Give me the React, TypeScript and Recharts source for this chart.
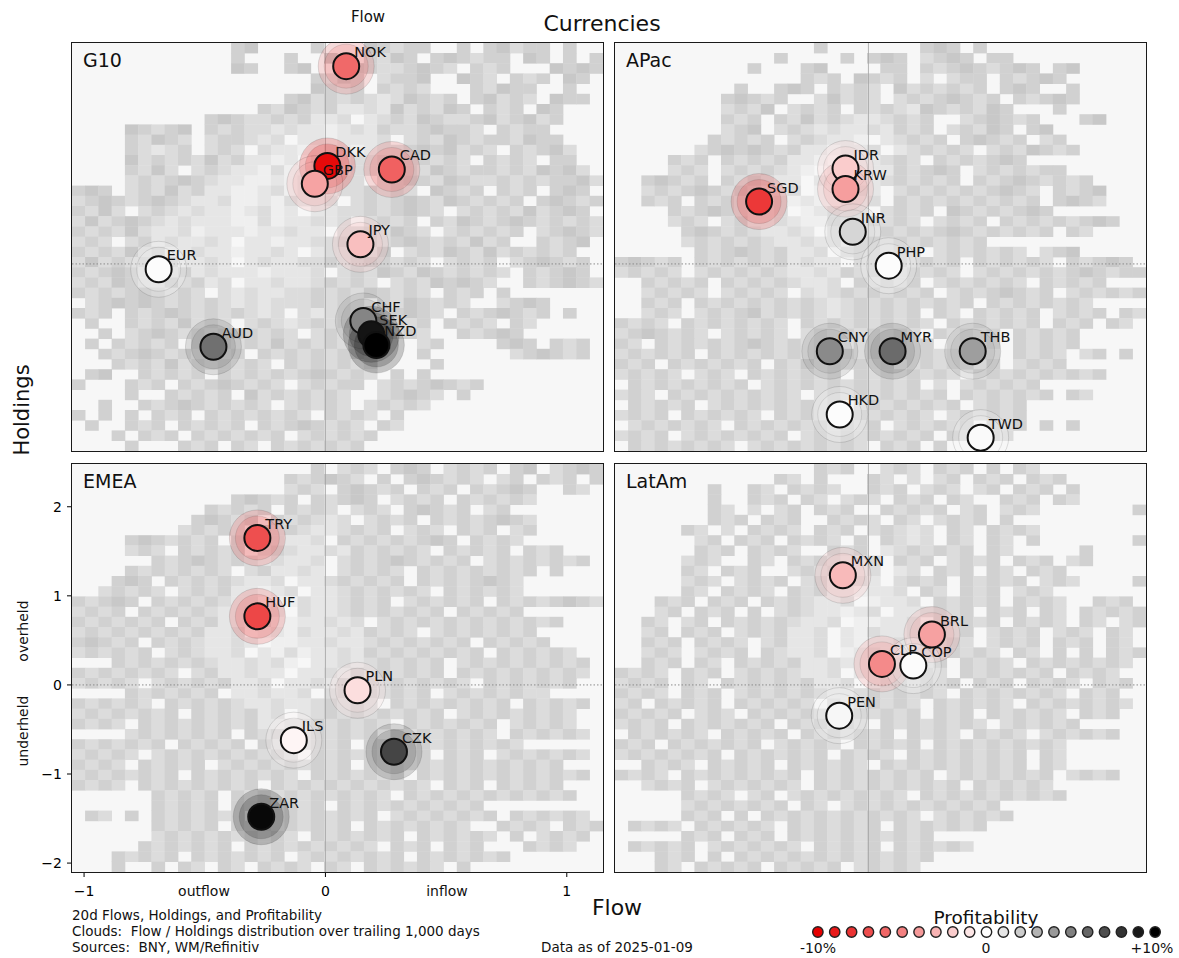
import React from "react";
import { ScatterChart, Scatter, XAxis, YAxis } from "recharts";

const FONT = "DejaVu Sans, Verdana, sans-serif";
const XMIN = -1.05;
const XMAX = 1.15;
const YMIN = -2.1;
const YMAX = 2.48;
const NBINS = 40;

const flowTicks = [-1, 0, 1];
const holdTicks = [-2, -1, 0, 1, 2];
const profitSteps = [-10, -9, -8, -7, -6, -5, -4, -3, -2, -1, 0, 1, 2, 3, 4, 5, 6, 7, 8, 9, 10];

// G10
const g10Names = ["NOK", "DKK", "GBP", "CAD", "JPY", "EUR", "CHF", "SEK", "NZD", "AUD"];
const g10Flow = [0.086, 0.008, -0.044, 0.275, 0.145, -0.691, 0.157, 0.19, 0.211, -0.464];
const g10Hold = [2.22, 1.1, 0.9, 1.06, 0.22, -0.06, -0.64, -0.79, -0.91, -0.93];
const g10Profit = [-5.9, -9.6, -3.6, -6.2, -2.5, 0.1, 4.8, 9.2, 10, 5.6];

// APac
const apacNames = ["SGD", "IDR", "KRW", "INR", "PHP", "CNY", "MYR", "THB", "HKD", "TWD"];
const apacFlow = [-0.453, -0.095, -0.095, -0.065, 0.084, -0.16, 0.1, 0.432, -0.119, 0.465];
const apacHold = [0.7, 1.07, 0.84, 0.36, -0.02, -0.98, -0.98, -0.98, -1.69, -1.95];
const apacProfit = [-7.8, -2.0, -3.8, 1.6, 0.1, 4.6, 5.8, 3.8, 0.1, 0.2];

// EMEA
const emeaNames = ["TRY", "HUF", "PLN", "ILS", "CZK", "ZAR"];
const emeaFlow = [-0.282, -0.282, 0.133, -0.131, 0.284, -0.266];
const emeaHold = [1.65, 0.77, -0.06, -0.62, -0.75, -1.48];
const emeaProfit = [-6.9, -7.2, -1.3, -0.4, 7.3, 9.7];

// LatAm
const latamNames = ["MXN", "BRL", "CLP", "COP", "PEN"];
const latamFlow = [-0.106, 0.263, 0.056, 0.186, -0.121];
const latamHold = [1.23, 0.565, 0.236, 0.217, -0.345];
const latamProfit = [-2.7, -3.7, -4.6, 0.1, 0.3];

// clouds: 40x40 histogram bins, top row = highest holdings
const g10Cloud = [
  "............cd....c...dcbcc..c.cdbcc.c..",
  "............c...c..d..cbdc.cdcbcc.dc.c.c",
  "............dc..cd..cdcbbcdcb.cbc...dcdc",
  "..................cbdc.bccd..dcb.cbc.dc.",
  "..................dcbc.cbcb...cbdcc..c..",
  "................cdbcbcbabdcbc.cdbcb.dcc.",
  "..............cbdcbcaabadbcbdc.cbc.dc...",
  "..........cdcbbcbcaab.abcbdcbbcdbcdbc...",
  "....dcbcd.cbcbbabaawabacbbcdccb.cbcc....",
  "....cbdcb.bccbab.aawaaab.bcbdcbccbdcc...",
  "....cbabc.bcb.baawwaawabbcdcdbcb.cbcdb..",
  "....dbcbcbdbcaawa.aaabbcbccbcb.cbcb.cc..",
  "....cbdb.bcbaawbwwaaabb.bcbdcbccbcbdcdb.",
  "....bcbcdcbaawwawaaabb.bcdcbdcbbcbcbccdb",
  "cdc.bcbdbcaawwabwaaabbcbcb.dcbc.cbc.cdc.",
  "bcdcbcdcbaabwwawbaab.bcbcdcbdcbcbc.cdcbc",
  "cbdb.bcbabaawabwa.aabbcbcdcb.bcbcbdbcdc.",
  "bdbcdcbabaaawwbwaabab.bcbc.cbdcbcdcbcbcb",
  "cbcbdbaabwaaawaabaa.bbcbdcb.bcbcbc.bcdcb",
  "bcb.bcabaaba.aawaabbcbcbcdcbcbdbc..cbcd.",
  "cbcbdbcaabaawaaba.abbcbd.bcbdcbdbcbcbc.",
  "bdbcbcbcaaba.abaabbcbcdcbcb.bcbc.bcdcbc",
  "cbcdcbcbcabaaawaaab.bcbdcbdcbcbcb.cbcdc",
  "bcbdcbbdbcab.aabaabcbcb.bcbdcdcb..cbcdcb",
  "cbcbcdcbcb.babaabbcbcbdcbcb.cbc.c.......",
  ".bcdcdcbcbcbababbbcbcb.cbdcbcb..bcdc....",
  "cbc.cbcdcbcbcbab.babcbcbcdcb.cbcdcbc.c..",
  ".c..cbcbdbcb.bcbabcbcdcbcbc.cbcb.cb.....",
  "..c.bcdcbcbcdcbcb.bcbcbcbcb..cbcdc......",
  ".c.cbcbc.cbcbcbdbcbcbcbc..bc....cdc.cbc.",
  "..cbcdcbcbcbc.cbcbcbcdc...c......bcdcbc.",
  "...cbcbdbcbcbcb.cbcbcbc....c............",
  ".cd..cbcbc.cbcbcbcdcbcb.c.c.............",
  "c...cbc.cbcdcbcb.bcbcc.bcbcdcbc.........",
  "....c..cbcbc.dbcbcbcb..bcdcb.c..........",
  "..c..cbcdcbcbcb.bcbcb.bcbcb.............",
  "c.c.c.cbc.cbcbcbcb.cbcb.c...............",
  ".c..cbc.cbcbc.cbcdcbcb.cb...............",
  "...c.cbc.cbcbcbc.bcbcbc.................",
  "....c...cbc.cb.cbcbcbc..................",
];

const apacCloud = [
  "...............c.......cdc.c............",
  "............c....c.cdc.bcdc.cc..........",
  "..........c...cd....cc.cbcdcbcdc.cd.....",
  "..............cbc.dcbc.b.bcc.cbcdc......",
  ".........c..cdc.cbcb.dbcbcbc.cdc..c.....",
  "........cdcbc..bdbcb.bcbcdcbc.cbcdc.....",
  "........bcbd.bcbc.cbcbadcbcbdc...c......",
  "........cbc.cbdbcbaabcbc..bcdcbc...cd...",
  "........bcd.bcbabaabacbc.bcbdc.cd.......",
  ".......cbcbc.bcbaaw.abcbc.cdcbc.bc......",
  "......bcdcdcbcaawaab.abcbcb.bcbdcbc.....",
  "....cbc.cbcbcaaw.waabcb.cbcbcdc.........",
  "....bcb.bcbcbaw.wbaaacbcdc.bcbcbcc......",
  "..cdcbc.cbcbaa.awbaabcbcbc.cbcdcbcbc....",
  "..bcbcdcbcbaab.wwaba.bcbcbcbcdcb.cbcd...",
  "..cbc.cbcbaabwawwaab.cbcbcbcbcbc.cdcb...",
  "....cbcdcbaab.wabaa.bcbc.dcbcbcdc.......",
  "....bcb.bcaabawwbaabbcb.bcbc.cbcbcbcdc..",
  ".....cdcbcbaaba.aabacbcbcdcbcbcbc.cb....",
  ".....bcbcbcbaabaa.bcbcbcbcbc............",
  "......cbcdcbcaab.abcbcb.bcbcbcb.bcd.....",
  "cdcbc.cbcbcbcabaa.bcbcbcbc.cbcbcb.cbcdc.",
  "bcbcb.bcbcbcbaabacbc.bcbcb.bcbcbcbcdcbcc",
  "..cbcbc.cbcbcbaab.cbcbc.bcbcbcb.cbcbc...",
  "..bcbcb.bcbcb.babcbcbcbc.bcbcdcbc.bcbcbc",
  "..cbc.cbcbcbcbcbabcbcbcbcbc.cbcbcbcb....",
  "..bcb.bcbcdbcbcbabcbcbc.cb.cbcbc.bcbc.cb",
  "cbcb.cbcbcbcb.cbcbcbcbcb.cbcbcbc.cbc.cb.",
  "bcdcbcb.bcbcb.bcbcbcbcb.cbcbc.cbcbc.....",
  "cb.cbcbcbcdcbcbcb.bcbcbc.bcbc.cbcbc.....",
  "bcbcbc.cbcbcbcbcbcbcbcbcbc.cb.cbcb.bc.c.",
  "cbc.cbcbcbc.cbdbcbcbc.bcbcb.c.bcbc......",
  "bcbcb.bcb.cbcbcbc.cbcbcbcb.bcbcbcbcbc...",
  ".cbcbcbcbc.bcbcbcbcbcbc.b.bcbcbc........",
  "bcb.cbcbcbcbcb.bcbcbcbcbc.cbcbcbc.cb....",
  ".cbcbc.bcbcbcbcbc.bcbcbcbc.bcbc.........",
  "bcbc.cbcbcb.cbcbcbcbcbcb.bcbcbc.........",
  ".bcbcbcb.cbcbcbcbcbc.bcbcbc.cbc.c.c.....",
  "bcbc.bcbcbcbc.bcbcbcbcbc.cb.cb..........",
  ".cbcbcbcb.bcbcbcbcb.cbc.c...............",
];

const emeaCloud = [
  "..................c.bcb.cdc.bcbc.cd.bcdc",
  "................cbcdcb.c.cdcbcb.bc.cbc.c",
  "................bcb.cdcbc.cbc.cbcdc..cb.",
  "............cdcbc.cbcdc.bcbc.cbcbcb.....",
  "..........cbcbc.cbcb.bcb.cdcbc.bc.......",
  ".........cdcbc.cbcbab.bcbc.cbcbcdcb.....",
  "........bcbcb.cbcbaabcbc.bcb.cbc.bc.....",
  "....cdcbcbc.cbcbaab.cbcbcbcdc.cbcb......",
  "....bcb.cbcbc.bcbaabacbcbcb.cbcbc.cbc...",
  "......cbcdcbcbabaab.bcbcdcbcbc.bcbcbcbc.",
  "....cbcbcbcb.bcaaba.bcbcb.cbcbcbcbc.c...",
  "...cdc.cbcbcbaab.aabcbcbc.cbcbcdcb......",
  "..bcbcb.bcbcaawab.aabcbcbcb.cbcbcb......",
  "cbcdc.cbcbcbaa.wwbaabcbc.bcbcbc.cbcbcdcb",
  "bcbc.cbcbcbaabwa.baabcbcbcbc.cbcbc......",
  "cbcbcbc.cbcaawbwwaabab.bcbcbcbcbcbcbc...",
  "bcbcbcbcbcaab.wawbaabacbcb.bcbcbcbc.....",
  "cdcbc.cbcbaaba.wwaabaabcbcbcbc.cbcbc....",
  "bcbcbc.bcbaab.awbwaabacbcbcbcbc.cbcbcb..",
  "...cbcbcbcbaababw.aababcbcbc.bcbcbcbcbc.",
  "cbcbcbcb.bcaabaa.aabacbcbcbc.cbcbcbcbcb.",
  "bcbcb.bcbcbcaab.aabacbcbcbcbcb.cbcbcbc..",
  "....cbcbcbc.aabaab.bcbcbcbc.bcbcbcbb....",
  "cbcbcb.cbcbcbaabaabcbcb.cbcbcbcbc.cbcbc.",
  "bcbcbcbc.cbcbcab.abcbcbcbcbc.bcbcbcbcb..",
  "cbcb.cbcbcbcbcaabbcbcbcb.cbcbcbc.bcbcb..",
  "....bcbcbcbc.cbcabcbcbc.cbcbcbcb.cbcbcb.",
  "cbcbcbc.cbcbc.cbcbcbc.cbcbcbcbcbcb......",
  "bcbcb.bcbcbcbcbcb.cbcbcbcbc.cbc.bcbcbcb.",
  "cbcb.cbcbc.bcbcbcbcbc.cbcbcbcbcbcbcbc...",
  "bcbcbcbc.cbcbcbcb.cbcbcbc.cbcbcbcbcbcbc.",
  "cbcb.cbcbcbcbc.cbcbcbcbcbcb.cbc.cbcbc...",
  "......cbcbc.cbcbcbcbcbcb.cbcbcbcbcbcbc..",
  "......cbcbc.cbcbcbc.cbcbcbcbcbc.........",
  ".cb.c.cbcbcbc.cbcbcbcbc.bcbcbcbc.cbcbcb.",
  "......cbcbc.cbcbcbcbc.cbcbcbcb..cbcb.cbc",
  "......bcbcbcbcbcb.cbcbcbc.cbcbcb.c.bcbc.",
  ".....cbcbcbc.cbcbcbcbcb.cbc.cbc...cbcb..",
  "...cbcbc.cbcbcbc.bcbcbcbc.cbcbcbc.......",
  "...c..c.cb.cb.cbcb.cb.cbcbcb.c..........",
];

const latamCloud = [
  "...............cbc..bcb.cbc.c.cb........",
  "............cb.c...cb.b.bc.cbc.cbc......",
  ".......c..cb.cbcb..cbc.bcb.bc.cbc.c.....",
  ".......c..cbc.cb.bcb.cbc.cb..cbc.cb.....",
  ".......cb.b.bc.cbc..cbcbc.bc.bcb.......c",
  ".......cbc.cbc..cbcb.cb.bcbc.c..........",
  ".....cb.b.cbcb.cbc.bcbab.cb.cbcb........",
  "......bc.cbc.cbcb.c.cbab.cb.cb.c.......c",
  "......cbc.cbcb..cbc.abcbcbc.cb.....c....",
  ".....bcb..cb.cbcbaab.cbc.bcbc.cbc.bc....",
  ".....cb.cbc..bcbcaab.ab.cbc.cb.cbc......",
  ".....bcb.bcbc.bcaaba.bcbc.cbcbc.bcb....c",
  ".....cb.cbcb.cbcaawaab.cb.cbc.bcb.......",
  "...cbc.cbc.cbcbaab.waab.cbcbc.cbcb..cbc.",
  "...bc.cbc.c.bcbaawab.aabcbc.cbc.cb.cbcbc",
  "..cb.bc.cbcbcbaab.wwaab.cbcbc.cbcb.cb.bc",
  "..bc.cbc.bcbcaab.awbaab.cbc.bcbc.bcb.cb.",
  "..cbc.cbcb.bcaab.awaabacbcb.bcbc.cbc.cb.",
  "..bcb.bcbc.cbaab.wabaabcbcbcb.cb.c.c.cbc",
  "..cbc.cb.cbcbcaabaa.abcbc.cbcb.cbcbcbcb.",
  "cbcb.cbc.bcbcbaab.aabcbcb.cbcbcbc.cbcb..",
  "bcbc.cb.cbcbcbcaab.abcbcbc.cbc.cbcb.cbc.",
  "cbcb.cbc.bcbcbcbaabcbcbcb.cbcbcbcb.cbc..",
  "bc.cbcbc.cbcbcb.babcbcb.cbcbcb.cbcbcbcb.",
  "cbcbc.bcb.cbcbcbcbcbcbc.cbc.cbcbcb.cbc..",
  "bcbc.cbcbcbc.cbcbcb.cbcbcbcb.bcbcbc.....",
  ".cbcbcb.cbcbc.cbcbcbc.cbcb.cbcb.bcbcbc..",
  "cbc.cbcbcbc.bcbcb.cbcbc.cbcbcbcbcb......",
  "bcbcbcbc.cbcbcbc.cbcb.cbcbcbcbc.cb......",
  "..cbcb.cbcbc.cbcbcb.cbcbcbcbcbc.cb......",
  "cbcb.cbcbcbcbc.cbcbcbcbc.bcbcbcbc.bcbc..",
  "..bcbc.bcbcbcb.cbcbcbcbcbc.cbcbcb.......",
  ".....cbcb.bc.bcbcbcbcb.cbcbcbcbcbc......",
  ".....bcbcbcbc.cb.bcbcbcbcbcbc...........",
  ".....cbc.c.cbcbcbcbcbcb.bcbcbc..........",
  ".cbcb.cbcbcb.cbcbcbc.cbcbcbc............",
  ".....cbc.cbc.cbcbcbcbcbc................",
  ".cbcbc.bcbcbcb.cbcbc.cbcbcb.............",
  "...cbc.c.cbcbcbcbcbcbcbc................",
  "...cb.cbcbc.cbcbc.bcbcb.................",
];

const CELL_FILL: Record<string, string> = {
  w: "#efefef",
  a: "#e6e6e6",
  b: "#dcdcdc",
  c: "#d1d1d1",
  d: "#c8c8c8",
};

type Pt = { name: string; x: number; y: number; p: number };

const toPoints = (names: string[], flow: number[], hold: number[], prof: number[]): Pt[] =>
  names.map((name, i) => ({ name, x: flow[i], y: hold[i], p: prof[i] }));

const cloudCells = (rows: string[]) => {
  const dx = (XMAX - XMIN) / NBINS;
  const dy = (YMAX - YMIN) / NBINS;
  const out: { x: number; y: number; k: string }[] = [];
  rows.forEach((row, r) => {
    const s = row.padEnd(NBINS, ".").slice(0, NBINS);
    for (let c = 0; c < NBINS; c++) {
      const k = s[c];
      if (k === ".") continue;
      out.push({ x: XMIN + (c + 0.5) * dx, y: YMAX - (r + 0.5) * dy, k });
    }
  });
  return out;
};

// red (-10%) -> white (0) -> black (+10%)
const profitColor = (v: number) => {
  const t = Math.max(-1, Math.min(1, v / 10));
  let r: number, g: number, b: number;
  if (t < 0) {
    const s = -t;
    r = 255 - 25 * s;
    g = 255 * (1 - s);
    b = 255 * (1 - s);
  } else {
    r = g = b = 255 * (1 - t);
  }
  return `rgb(${Math.round(r)},${Math.round(g)},${Math.round(b)})`;
};

const fmtTick = (v: number) => (v < 0 ? "\u2212" + Math.abs(v) : String(v));

const tickStyle = { fontSize: 14, fill: "#000", fontFamily: FONT };

interface PanelProps {
  left: number;
  top: number;
  width: number;
  height: number;
  title: string;
  cloud: string[];
  points: Pt[];
  showX: boolean;
  showY: boolean;
}

const Panel = ({ left, top, width, height, title, cloud, points, showX, showY }: PanelProps) => {
  const cells = cloudCells(cloud);
  const cw = width / NBINS + 0.4;
  const ch = height / NBINS + 0.4;
  const blank = () => <g />;
  return (
    <>
      <div style={{ position: "absolute", left, top, width, height, background: "#f7f7f7" }} />
      <div style={{ position: "absolute", left: left - 40, top: top - 10 }}>
        <ScatterChart width={width + 50} height={height + 40} margin={{ top: 10, right: 10, bottom: 0, left: 0 }}>
          <XAxis
            type="number"
            dataKey="x"
            domain={[XMIN, XMAX]}
            ticks={flowTicks}
            interval={0}
            allowDataOverflow
            axisLine={false}
            tickLine={{ stroke: "#000", strokeWidth: 1 }}
            tickSize={5}
            tickMargin={9}
            height={30}
            tick={showX ? tickStyle : false}
            tickFormatter={fmtTick}
          />
          <YAxis
            type="number"
            dataKey="y"
            domain={[YMIN, YMAX]}
            ticks={holdTicks}
            interval={0}
            allowDataOverflow
            axisLine={false}
            tickLine={{ stroke: "#000", strokeWidth: 1 }}
            tickSize={5}
            tickMargin={5}
            width={40}
            tick={showY ? tickStyle : false}
            tickFormatter={fmtTick}
          />
          <Scatter
            data={cells}
            isAnimationActive={false}
            shape={(p: any) => (
              <rect x={p.cx - cw / 2} y={p.cy - ch / 2} width={cw} height={ch} fill={CELL_FILL[p.payload.k]} />
            )}
          />
          <Scatter
            data={[{ x: 0, y: YMIN }, { x: 0, y: YMAX }]}
            isAnimationActive={false}
            line={{ stroke: "#a0a0a0", strokeWidth: 0.8 }}
            shape={blank}
          />
          <Scatter
            data={[{ x: XMIN, y: 0 }, { x: XMAX, y: 0 }]}
            isAnimationActive={false}
            line={{ stroke: "#8c8c8c", strokeWidth: 1, strokeDasharray: "1.5 2" }}
            shape={blank}
          />
          <Scatter
            data={points}
            isAnimationActive={false}
            shape={(p: any) => {
              const col = profitColor(p.payload.p);
              return (
                <g>
                  <circle cx={p.cx} cy={p.cy} r={28} fill={col} fillOpacity={0.2} stroke="#000" strokeOpacity={0.12} strokeWidth={1} />
                  <circle cx={p.cx} cy={p.cy} r={22} fill={col} fillOpacity={0.2} stroke="#000" strokeOpacity={0.1} strokeWidth={1} />
                </g>
              );
            }}
          />
          <Scatter
            data={points}
            isAnimationActive={false}
            shape={(p: any) => (
              <circle cx={p.cx} cy={p.cy} r={13} fill={profitColor(p.payload.p)} stroke="#111" strokeWidth={2} />
            )}
          />
          <Scatter
            data={points}
            isAnimationActive={false}
            shape={(p: any) => (
              <text x={p.cx + 8} y={p.cy - 9} fontSize={14.5} fontFamily={FONT} fill="#111">
                {p.payload.name}
              </text>
            )}
          />
        </ScatterChart>
      </div>
      <div
        style={{
          position: "absolute",
          left: left - 1,
          top: top - 1,
          width,
          height,
          border: "1.5px solid #1a1a1a",
          boxSizing: "content-box",
          pointerEvents: "none",
        }}
      />
      <div
        style={{
          position: "absolute",
          left: left + 11,
          top: top + 6,
          fontSize: 19,
          fontFamily: FONT,
          color: "#111",
        }}
      >
        {title}
      </div>
    </>
  );
};

const legendData = profitSteps.map((p) => ({ x: p, y: 0.5, p }));

const ProfitLegend = () => (
  <div style={{ position: "absolute", left: 801, top: 922 }}>
    <ScatterChart width={371} height={20} margin={{ top: 0, right: 0, bottom: 0, left: 0 }}>
      <XAxis type="number" dataKey="x" domain={[-11, 11]} hide />
      <YAxis type="number" dataKey="y" domain={[0, 1]} hide />
      <Scatter
        data={legendData}
        isAnimationActive={false}
        shape={(p: any) => (
          <circle cx={p.cx} cy={p.cy} r={5.2} fill={profitColor(p.payload.p)} stroke="#222" strokeWidth={1.4} />
        )}
      />
    </ScatterChart>
  </div>
);

const pre = { whiteSpace: "pre" as const };

export default function App() {
  const g10 = toPoints(g10Names, g10Flow, g10Hold, g10Profit);
  const apac = toPoints(apacNames, apacFlow, apacHold, apacProfit);
  const emea = toPoints(emeaNames, emeaFlow, emeaHold, emeaProfit);
  const latam = toPoints(latamNames, latamFlow, latamHold, latamProfit);
  return (
    <div
      style={{
        position: "absolute",
        left: 0,
        top: 0,
        width: 1179,
        height: 958,
        background: "#fff",
        fontFamily: FONT,
        overflow: "hidden",
      }}
    >
      <Panel left={72} top={43} width={531} height={408} title="G10" cloud={g10Cloud} points={g10} showX={false} showY={false} />
      <Panel left={615} top={43} width={531} height={408} title="APac" cloud={apacCloud} points={apac} showX={false} showY={false} />
      <Panel left={72} top={464} width={531} height={408} title="EMEA" cloud={emeaCloud} points={emea} showX showY />
      <Panel left={615} top={464} width={531} height={408} title="LatAm" cloud={latamCloud} points={latam} showX={false} showY={false} />
      <ProfitLegend />
      <svg
        width={1179}
        height={958}
        style={{ position: "absolute", left: 0, top: 0, pointerEvents: "none" }}
        fontFamily={FONT}
      >
        <text x={602} y={31} textAnchor="middle" fontSize={22} fill="#111">Currencies</text>
        <text x={368} y={22} textAnchor="middle" fontSize={15} fill="#111">Flow</text>
        <text transform="translate(29,410) rotate(-90)" textAnchor="middle" fontSize={21} fill="#111">Holdings</text>
        <text transform="translate(28,631) rotate(-90)" textAnchor="middle" fontSize={14} fill="#111">overheld</text>
        <text transform="translate(28,731) rotate(-90)" textAnchor="middle" fontSize={14} fill="#111">underheld</text>
        <text x={204} y={896} textAnchor="middle" fontSize={14} fill="#111">outflow</text>
        <text x={447} y={896} textAnchor="middle" fontSize={14} fill="#111">inflow</text>
        <text x={617} y={915} textAnchor="middle" fontSize={22} fill="#111">Flow</text>
        <text x={72} y={920} fontSize={13.5} fill="#111" style={pre}>20d Flows, Holdings, and Profitability</text>
        <text x={72} y={936} fontSize={13.5} fill="#111" style={pre}>Clouds:  Flow / Holdings distribution over trailing 1,000 days</text>
        <text x={72} y={952} fontSize={13.5} fill="#111" style={pre}>Sources:  BNY, WM/Refinitiv</text>
        <text x={541} y={952} fontSize={13.5} fill="#111">Data as of 2025-01-09</text>
        <text x={986} y={924} textAnchor="middle" fontSize={18.5} fill="#111">Profitability</text>
        <text x={818} y={953} textAnchor="middle" fontSize={14} fill="#111">-10%</text>
        <text x={986} y={953} textAnchor="middle" fontSize={14} fill="#111">0</text>
        <text x={1152} y={953} textAnchor="middle" fontSize={14} fill="#111">+10%</text>
      </svg>
    </div>
  );
}
